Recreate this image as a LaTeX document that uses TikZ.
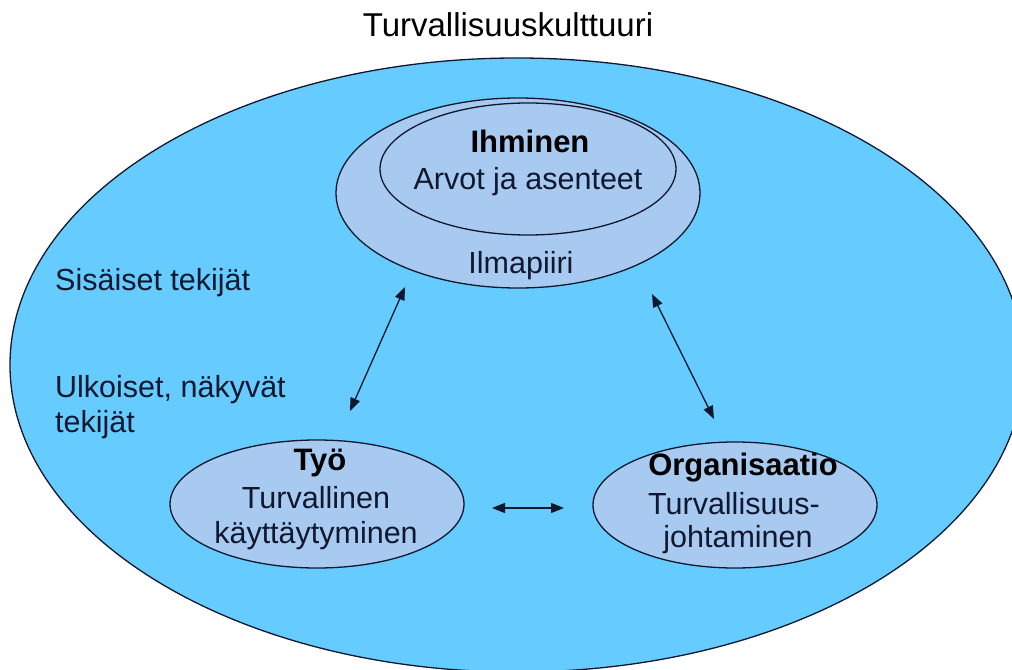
\documentclass[tikz,border=0pt]{standalone}
\usepackage{fontspec}
\setmainfont{Liberation Sans}
\usetikzlibrary{shapes.geometric,arrows.meta}
\definecolor{culture}{RGB}{102,204,255}
\definecolor{factor}{RGB}{168,202,240}
\definecolor{ink}{RGB}{16,24,48}
\tikzset{
  zone/.style={ellipse, draw=ink, line width=1.3bp, inner sep=0pt},
  lbl/.style={anchor=base, inner sep=0pt, text=ink, font=\fontsize{30.5bp}{36bp}\selectfont},
  head/.style={anchor=base, inner sep=0pt, text=black, font=\fontsize{31bp}{36bp}\selectfont\bfseries},
  link/.style={draw=ink, line width=1.3bp, {Triangle[length=13bp,width=10bp]}-{Triangle[length=13bp,width=10bp]}}
}
\begin{document}
\begin{tikzpicture}[x=1bp, y=-1bp]
  \useasboundingbox (0,0) rectangle (1012,670);
  \clip (0,0) rectangle (1012,670);

  % title
  \node[anchor=base, inner sep=0pt, font=\fontsize{33bp}{38bp}\selectfont] (title) at (508,37) {Turvallisuuskulttuuri};

  % safety culture as a whole
  \node[zone, fill=culture, minimum width=1014bp, minimum height=614bp] (culture) at (517,365) {};

  % person: climate and values
  \node[zone, fill=factor, minimum width=364bp, minimum height=190bp] (climate) at (518,193) {};
  \node[zone, fill=factor, minimum width=296bp, minimum height=132bp] (values) at (528,169) {};
  \node[head] (ihminen) at (530,153) {Ihminen};
  \node[lbl] (arvot) at (528,190) {Arvot ja asenteet};
  \node[lbl] (ilmapiiri) at (521,273) {Ilmapiiri};

  % work
  \node[zone, fill=factor, minimum width=294bp, minimum height=128bp] (tyo) at (317,504) {};
  \node[head] (tyohead) at (320,470) {Työ};
  \node[lbl] (tyo1) at (316,508) {Turvallinen};
  \node[lbl] (tyo2) at (316,543) {käyttäytyminen};

  % organisation
  \node[zone, fill=factor, minimum width=284bp, minimum height=126bp] (org) at (735,505) {};
  \node[head] (orghead) at (743,475) {Organisaatio};
  \node[lbl] (org1) at (734,514) {Turvallisuus-};
  \node[lbl] (org2) at (738,547) {johtaminen};

  % side labels
  \node[lbl, anchor=base west] (inner) at (55,290) {Sisäiset tekijät};
  \node[lbl, anchor=base west] (outer1) at (55,397) {Ulkoiset, näkyvät};
  \node[lbl, anchor=base west] (outer2) at (55,432) {tekijät};

  % interactions
  \coordinate (a1) at (405,287);
  \coordinate (a2) at (350,411);
  \coordinate (b1) at (652,294);
  \coordinate (b2) at (714,419);
  \coordinate (c1) at (492,508);
  \coordinate (c2) at (564,508);
  \draw[link] (a1) -- (a2);
  \draw[link] (b1) -- (b2);
  \draw[link] (c1) -- (c2);
\end{tikzpicture}
\end{document}
